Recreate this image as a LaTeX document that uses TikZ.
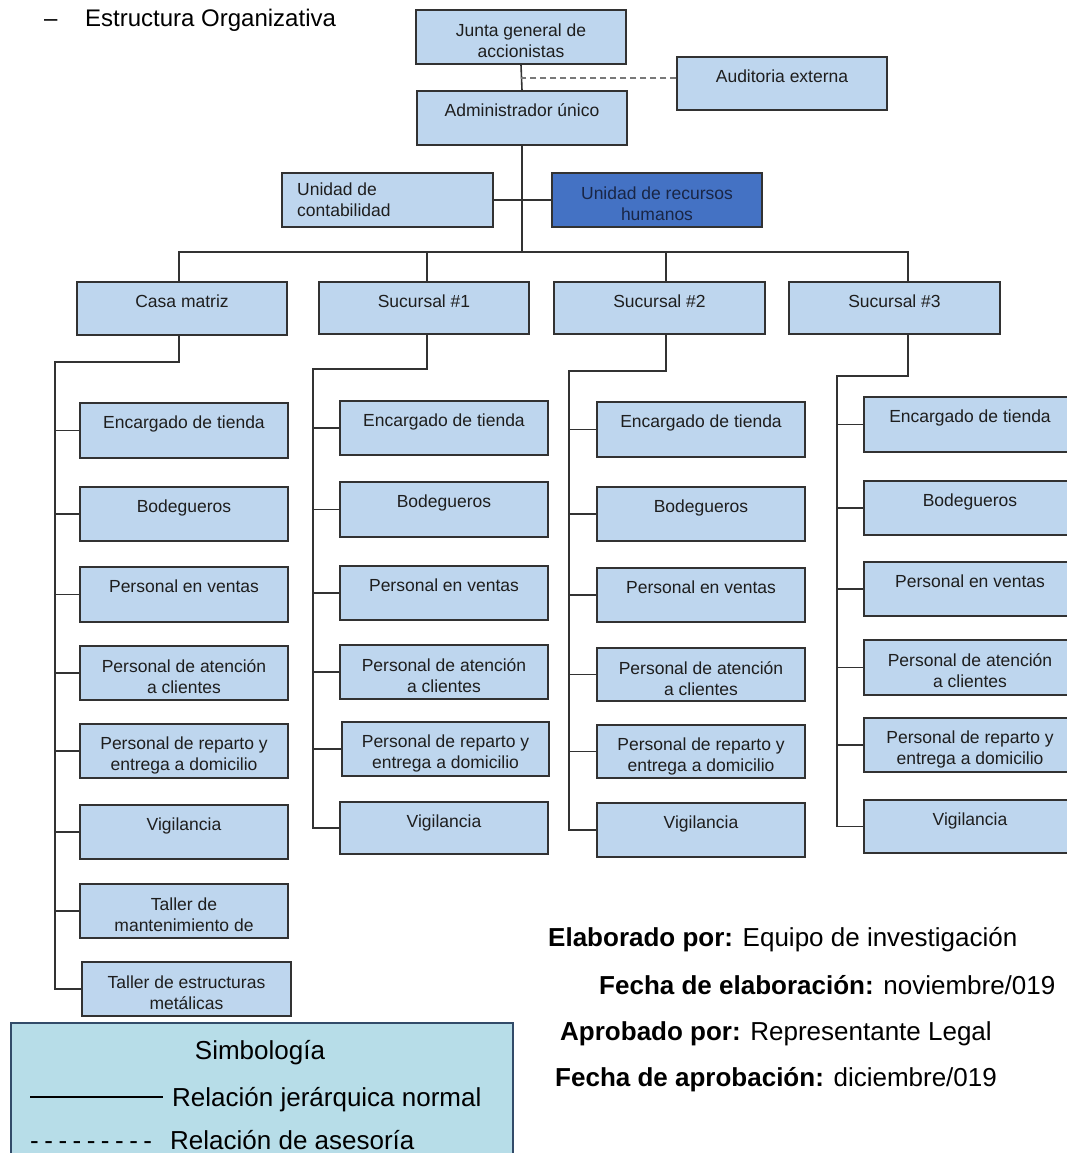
\documentclass[tikz,border=0pt]{standalone}
\usepackage{fontspec}
\setmainfont{Liberation Sans}
\definecolor{boxfill}{RGB}{190,214,238}
\definecolor{hrfill}{RGB}{68,114,196}
\definecolor{hrtext}{RGB}{25,38,70}
\definecolor{edgec}{RGB}{50,50,50}
\definecolor{txtc}{RGB}{30,30,30}
\definecolor{legfill}{RGB}{183,221,232}
\definecolor{legedge}{RGB}{50,75,105}
\definecolor{dashc}{RGB}{120,120,120}
\newcommand{\bxA}[6]{%
 \pgfmathsetmacro\mybw{#4-#2}\pgfmathsetmacro\mybh{#5-#3}%
 \pgfmathsetmacro\mycx{(#2+#4)/2}\pgfmathsetmacro\mycy{(#3+#5)/2}\pgfmathsetmacro\myty{#3+25.5}%
 \node[box, minimum width=\mybw pt, minimum height=\mybh pt] (#1) at (\mycx,\mycy) {};
 \node[txt, anchor=base] (#1t) at (\mycx,\myty) {#6};}
\newcommand{\bxB}[6]{%
 \pgfmathsetmacro\mybw{#4-#2}\pgfmathsetmacro\mybh{#5-#3}%
 \pgfmathsetmacro\mycx{(#2+#4)/2}\pgfmathsetmacro\mycy{(#3+#5)/2}\pgfmathsetmacro\myty{#3+31}%
 \node[box, minimum width=\mybw pt, minimum height=\mybh pt] (#1) at (\mycx,\mycy) {};
 \node[txt] (#1t) at (\mycx,\myty) {#6};}
\begin{document}
\begin{tikzpicture}[x=1pt,y=-1pt,
  box/.style={draw=edgec, fill=boxfill, line width=1.5pt, inner sep=0pt, rectangle},
  txt/.style={font=\fontsize{17.5}{21}\selectfont, text=txtc, align=center, inner sep=0pt},
  conn/.style={draw=edgec, line width=1.6pt},
  dashcon/.style={draw=dashc, line width=2pt, dash pattern=on 6pt off 4pt},
  big/.style={font=\fontsize{26}{30}\selectfont, inner sep=0pt, text=black}]
\useasboundingbox (0,0) rectangle (1067,1153);
\clip (0,0) rectangle (1067,1153);
\fill[white] (0,0) rectangle (1067,1153);

% header
\node[anchor=base west, inner sep=0pt, font=\fontsize{24}{28}\selectfont] (hdash) at (44,27) {–};
\node[anchor=base west, inner sep=0pt, font=\fontsize{24}{28}\selectfont] (head) at (85,27) {Estructura Organizativa};

% top levels
\bxB{junta}{416}{10}{626}{64}{Junta general de\\accionistas}
\bxA{aud}{677}{57}{887}{110}{Auditoria externa}
\bxA{admin}{417}{91}{627}{145}{Administrador único}
\node[box, minimum width=211pt, minimum height=54pt] (contab) at (387.5,200) {};
\node[txt, align=left, anchor=west] (contabt) at (297,200) {Unidad de\\contabilidad};
\node[box, fill=hrfill, minimum width=210pt, minimum height=54pt] (hr) at (657,200) {};
\node[txt, text=hrtext] (hrt) at (657,204) {Unidad de recursos\\humanos};

\bxA{casa}{77}{282}{287}{335}{Casa matriz}
\bxA{suca}{319}{282}{529}{334}{Sucursal \#1}
\bxA{sucb}{554}{282}{765}{334}{Sucursal \#2}
\bxA{succ}{789}{282}{1000}{334}{Sucursal \#3}

% Casa matriz children
\bxA{c1}{80}{403}{288}{458}{Encargado de tienda}
\bxA{c2}{80}{487}{288}{541}{Bodegueros}
\bxA{c3}{80}{567}{288}{622}{Personal en ventas}
\bxB{c4}{80}{646}{288}{700}{Personal de atención\\a clientes}
\bxB{c5}{80}{724}{288}{778}{Personal de reparto y\\entrega a domicilio}
\bxA{c6}{80}{805}{288}{859}{Vigilancia}
\bxB{c7}{80}{884}{288}{938}{Taller de\\mantenimiento de}
\bxB{c8}{82}{962}{291}{1016}{Taller de estructuras\\metálicas}

% Sucursal 1 children
\bxA{a1}{340}{401}{548}{455}{Encargado de tienda}
\bxA{a2}{340}{482}{548}{537}{Bodegueros}
\bxA{a3}{340}{566}{548}{620}{Personal en ventas}
\bxB{a4}{340}{645}{548}{699}{Personal de atención\\a clientes}
\bxB{a5}{342}{722}{549}{776}{Personal de reparto y\\entrega a domicilio}
\bxA{a6}{340}{802}{548}{854}{Vigilancia}

% Sucursal 2 children
\bxA{b1}{597}{402}{805}{457}{Encargado de tienda}
\bxA{b2}{597}{487}{805}{541}{Bodegueros}
\bxA{b3}{597}{568}{805}{622}{Personal en ventas}
\bxB{b4}{597}{648}{805}{701}{Personal de atención\\a clientes}
\bxB{b5}{597}{725}{805}{778}{Personal de reparto y\\entrega a domicilio}
\bxA{b6}{597}{803}{805}{857}{Vigilancia}

% Sucursal 3 children
\bxA{d1}{864}{397}{1076}{452}{Encargado de tienda}
\bxA{d2}{864}{481}{1076}{535}{Bodegueros}
\bxA{d3}{864}{562}{1076}{616}{Personal en ventas}
\bxB{d4}{864}{640}{1076}{695}{Personal de atención\\a clientes}
\bxB{d5}{864}{718}{1076}{772}{Personal de reparto y\\entrega a domicilio}
\bxA{d6}{864}{800}{1076}{853}{Vigilancia}

% connectors
\coordinate (bar) at (0,252);
\coordinate (dsh) at (0,78);
\coordinate (xC) at (179,0);
\coordinate (xA) at (427,0);
\coordinate (xB) at (666,0);
\coordinate (xD) at (908,0);
\draw[conn] (junta.south) -- (admin.north);
\draw[conn] (admin.south) -- (admin.south |- bar);
\draw[dashcon] (aud.west |- dsh) -- (junta.south |- dsh);
\draw[conn] (contab.east) -- (hr.west);
\draw[conn] (casa.north -| xC) -- (xC |- bar) -- (xD |- bar) -- (succ.north -| xD);
\draw[conn] (suca.north -| xA) -- (xA |- bar);
\draw[conn] (sucb.north -| xB) -- (xB |- bar);

\coordinate (sC) at (55,362);
\coordinate (sA) at (313,369);
\coordinate (sB) at (569,371);
\coordinate (sD) at (837,376);
\draw[conn] (casa.south -| xC) |- (sC) -- (sC |- c8.west) -- (c8.west);
\draw[conn] (suca.south -| xA) |- (sA) -- (sA |- a6.west) -- (a6.west);
\draw[conn] (sucb.south -| xB) |- (sB) -- (sB |- b6.west) -- (b6.west);
\draw[conn] (succ.south -| xD) |- (sD) -- (sD |- d6.west) -- (d6.west);
\foreach \i in {1,...,7} { \draw[conn] (c\i.west) -- (c\i.west -| sC); }
\foreach \i in {1,...,5} {
  \draw[conn] (a\i.west) -- (a\i.west -| sA);
  \draw[conn] (b\i.west) -- (b\i.west -| sB);
  \draw[conn] (d\i.west) -- (d\i.west -| sD);
}

% footer info
\node[big, anchor=base west] (f1) at (548,946) {\textbf{Elaborado por:} Equipo de investigación};
\node[big, anchor=base west] (f2) at (599,994) {\textbf{Fecha de elaboración:} noviembre/019};
\node[big, anchor=base west] (f3) at (560,1040) {\textbf{Aprobado por:} Representante Legal};
\node[big, anchor=base west] (f4) at (555,1086) {\textbf{Fecha de aprobación:} diciembre/019};

% legend
\node[draw=legedge, fill=legfill, line width=2pt, minimum width=502pt, minimum height=170pt, anchor=north west, inner sep=0pt] (leg) at (10,1022) {};
\node[big, anchor=base] (legt) at (260,1059) {Simbología};
\coordinate (la) at (30,1097);
\coordinate (lb) at (163,1097);
\draw[line width=1.8pt] (la) -- (lb);
\node[big, anchor=base west] (lr1) at (172,1106) {Relación jerárquica normal};
\node[big, anchor=base west] (ld) at (30,1149) {-\kern5.5pt-\kern5.5pt-\kern5.5pt-\kern5.5pt-\kern5.5pt-\kern5.5pt-\kern5.5pt-\kern5.5pt-};
\node[big, anchor=base west] (lr2) at (170,1149) {Relación de asesoría};
\end{tikzpicture}
\end{document}
